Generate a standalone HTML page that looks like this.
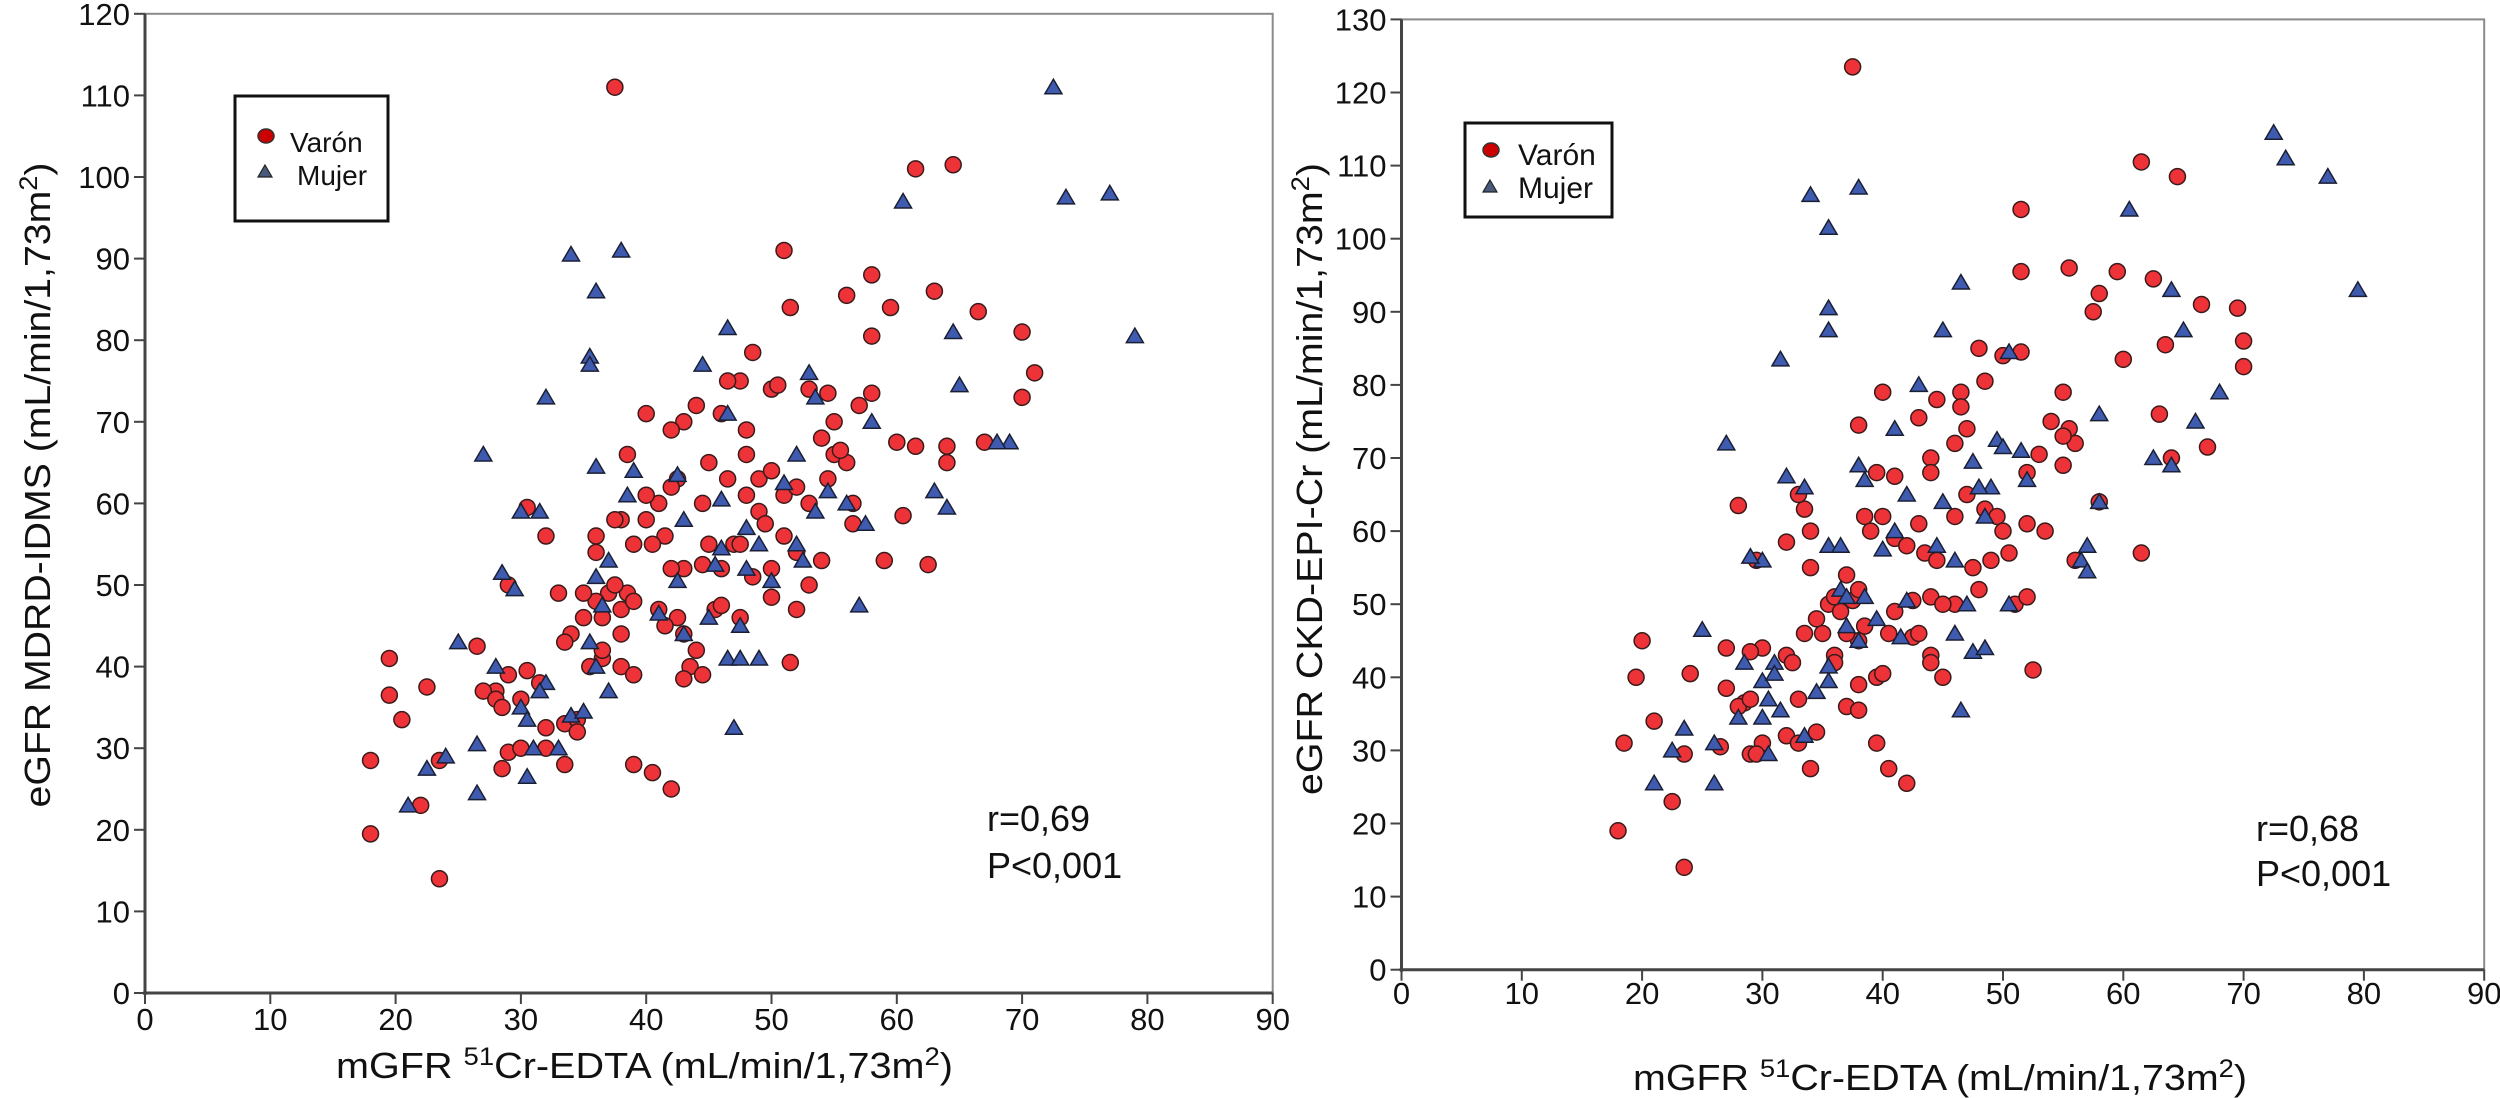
<!DOCTYPE html>
<html><head><meta charset="utf-8"><style>
html,body{margin:0;padding:0;background:#fff;}
svg{display:block;font-family:"Liberation Sans",Arial,sans-serif;}
</style></head><body>
<svg id="chart" width="2500" height="1098" viewBox="0 0 2500 1098" xmlns="http://www.w3.org/2000/svg">
<rect width="2500" height="1098" fill="#fff"/>
<g id="left"></g>
<g id="right"></g>
</svg>
<script>
const xTicks=[0,10,20,30,40,50,60,70,80,90];
const yTicksL=[0,10,20,30,40,50,60,70,80,90,100,110,120];
const yTicksR=[0,10,20,30,40,50,60,70,80,90,100,110,120,130];
const leftMaleX=[37.5,51,61.5,64.5,51.5,56,58,63,66.5,70,58,59.5,53,54.5,55,57,58,50,50.5,47.5,48.5,46.5,46,48,48,44,43,40,38.5,42,42.5,45,44.5,46.5,48,49,50,51,52,53,54.5,55,56,56.5,56.5,49,49.5,51,52,53,50,48.5,47,47.5,46,45,44.5,43,42,41.5,40.5,40,39,38,37.5,37,36.5,38,38.5,39,37.5,36,35,35.5,36.5,38,39,34,33.5,35,33,32,30.5,29,30,28,27,26.5,22.5,19.5,19.5,20.5,18,23.5,22,18,23.5,28,28.5,29,30.5,29,28.5,30,32,32,31.5,33.5,34.5,33.5,34.5,39,40.5,42,42.5,43,43.5,44.5,43,44,45.5,46,47.5,50,51.5,52,54,59,60.5,62.5,64,64,67,70,71,54,55.5,60,61.5,42,41,40,36,36.5,41,41.5,36,38];
const leftMaleY=[111,91,101,101.5,84,85.5,88,86,83.5,81,80.5,84,74,73.5,70,72,73.5,74,74.5,75,78.5,75,71,69,66,72,70,71,66,69,63,65,60,63,61,63,64,61,62,60,63,66,65,60,57.5,59,57.5,56,54,50,52,51,55,55,52,55,52.5,52,52,56,55,58,55,58,58,49,46,47,49,48,50,48,49,40,41,40,39,44,43,46,49,56,59.5,50,36,37,37,42.5,37.5,41,36.5,33.5,28.5,28.5,23,19.5,14,36,35,39,39.5,29.5,27.5,30,32.5,30,38,33,33.5,28,32,28,27,25,46,44,40,39,38.5,42,47,47.5,46,48.5,40.5,47,53,53,58.5,52.5,65,67,67.5,73,76,68,66.5,67.5,67,62,60,61,54,42,47,45,56,44];
const leftFemaleX=[72.5,73.5,77,79,60.5,64.5,65,69,68,63,64,57,57.5,58,53,53.5,52,51,52,52.5,46.5,44.5,46.5,38,34,36,35.5,35.5,32,27,31.5,30,36,39,38.5,43,42.5,46,48,46,45.5,42.5,41,43,45,48,50,49,47.5,36,37,36.5,35.5,36,37,28.5,29.5,25,28,30,31,33,32,34,35,31.5,30.5,30.5,26.5,26.5,24,22.5,21,46.5,47.5,49,47,56,54.5,53.5];
const leftFemaleY=[111,97.5,98,80.5,97,81,74.5,67.5,67.5,61.5,59.5,47.5,57.5,70,76,73,66,62.5,55,53,81.5,77,71,91,90.5,86,78,77,73,66,59,59,64.5,64,61,58,63.5,60.5,57,54.5,52.5,50.5,46.5,44,46,52,50.5,55,45,51,53,47.5,43,40,37,51.5,49.5,43,40,35,30,30,38,34,34.5,37,33.5,26.5,30.5,24.5,29,27.5,23,41,41,41,32.5,60,61.5,59];
const rightMaleX=[37.5,51.5,61.5,64.5,55.5,51.5,59.5,62.5,58,66.5,69.5,57.5,70,63.5,60,70,67,63,64,61.5,56,58,55,56,55.5,55,54,55,53,52,51.5,50,48,48.5,46.5,46.5,44.5,40,43,47,46,44,44,41,39.5,38,38.5,40,39,41,42,43,43.5,44.5,46,47,48.5,49.5,50,52,53.5,50.5,48,47.5,49,51,52,52.5,46,44,45,42.5,41,40.5,38.5,38,37,36,36,35,34.5,35.5,36.5,37.5,38,37,36,34,34,33.5,32,29.5,28,33,38,39.5,40,37,38,33.5,32,32.5,30,29,27,27,24,20,19.5,21,18.5,23.5,22.5,18,23.5,28.5,28,29,29,30,29.5,32,33,33,34.5,34,39.5,40.5,42,42.5,43,44,44,45,26.5];
const rightMaleY=[123.5,104,110.5,108.5,96,95.5,95.5,94.5,92.5,91,90.5,90,86,85.5,83.5,82.5,71.5,76,70,57,56,64,79,72,74,73,75,69,70.5,68,84.5,84,85,80.5,79,77,78,79,75.5,74,72,70,68,67.5,68,74.5,62,62,60,59,58,61,57,56,62,65,63,62,60,61,60,57,52,55,56,50,51,41,50,51,50,50.5,49,46,47,45,46,43,42,46,48,50,49,50.5,52,54,51,55,60,63,58.5,56,63.5,65,39,40,40.5,36,35.5,46,43,42,44,43.5,44,38.5,40.5,45,40,34,31,29.5,23,19,14,36.5,36,37,29.5,31,29.5,32,31,37,32.5,27.5,31,27.5,25.5,45.5,46,43,42,40,30.5];
const rightFemaleX=[72.5,73.5,77,79.5,60.5,64,65,68,66,58,62.5,64,58,56.5,57,57,50.5,46.5,45,43,41,38,34,35.5,35.5,35.5,31.5,27,33.5,32,30,29,35.5,36.5,38,38.5,42,45,47.5,49.5,50,51.5,52,49,48,48.5,46,44.5,41,40,36.5,37,38.5,37,35.5,38,39.5,42,41.5,47,50.5,47.5,48.5,46.5,46,25,28.5,30,31,31,30.5,31.5,33.5,34.5,35.5,28,30,30.5,26,26,23.5,21,22.5];
const rightFemaleY=[114.5,111,108.5,93,104,93,87.5,79,75,76,70,69,64,56,54.5,58,84.5,94,87.5,80,74,107,106,101.5,90.5,87.5,83.5,72,66,67.5,56,56.5,58,58,69,67,65,64,69.5,72.5,71.5,71,67,66,66,62,56,58,60,57.5,52,51,51,47,41.5,45,48,50.5,45.5,50,50,43.5,44,35.5,46,46.5,42,39.5,42,40.5,37,35.5,32,38,39.5,34.5,34.5,29.5,31,25.5,33,25.5,30];

const NS='http://www.w3.org/2000/svg';
function mk(tag,attrs,parent){const e=document.createElementNS(NS,tag);for(const k in attrs)e.setAttribute(k,attrs[k]);parent.appendChild(e);return e;}

function panel(g,cfg){
  const sx=v=>cfg.x0+v*cfg.kx, sy=v=>cfg.y0-v*cfg.ky;
  const top=sy(cfg.ymax), right=sx(90);
  const frame=mk('rect',{x:cfg.x0,y:top,width:right-cfg.x0,height:cfg.y0-top,fill:'none',stroke:'#8a8a8a','stroke-width':2},g);
  
  
  const yax=mk('line',{x1:cfg.x0,y1:top,x2:cfg.x0,y2:cfg.y0+2,stroke:'#444','stroke-width':3},g);
  
  
  const xax=mk('line',{x1:cfg.x0-2,y1:cfg.y0,x2:right,y2:cfg.y0,stroke:'#444','stroke-width':3},g);
  
  
  cfg.yTicks.forEach(t=>{
    const y=sy(t);
    const l=mk('line',{x1:cfg.x0-11,y1:y,x2:cfg.x0,y2:y,stroke:'#444','stroke-width':2},g);
    
    
    const tx=mk('text',{x:cfg.x0-15,y:y+11,'text-anchor':'end','font-size':31,fill:'#111'},g);
    tx.textContent=t;
    
    
  });
  xTicks.forEach(t=>{
    const x=sx(t);
    const l=mk('line',{x1:x,y1:cfg.y0,x2:x,y2:cfg.y0+11,stroke:'#444','stroke-width':2},g);
    
    
    const tx=mk('text',{x:x,y:cfg.xLabY,'text-anchor':'middle','font-size':31,fill:'#111'},g);
    tx.textContent=t;
    
    
  });
  function circ(xs,ys){xs.forEach((v,i)=>{
    const c=mk('circle',{cx:sx(v),cy:sy(ys[i]),r:8,fill:'#ee3338',stroke:'#3a1a1a','stroke-width':1.5},g);
    
    
  });}
  function tri(xs,ys){xs.forEach((v,i)=>{
    const x=sx(v),y=sy(ys[i]);
    const p=mk('polygon',{points:`${x},${y-8} ${x+8.5},${y+6.5} ${x-8.5},${y+6.5}`,fill:'#3f5bb0',stroke:'#1a1f33','stroke-width':1.5},g);
    
    
  });}
  circ(cfg.mx,cfg.my); tri(cfg.fx,cfg.fy);
}
panel(document.getElementById('left'),{x0:145,kx:12.53,y0:993,ky:8.16,ymax:120,yTicks:yTicksL,xLabY:1030,mx:leftMaleX,my:leftMaleY,fx:leftFemaleX,fy:leftFemaleY});
panel(document.getElementById('right'),{x0:1401.5,kx:12.03,y0:969.7,ky:7.31,ymax:130,yTicks:yTicksR,xLabY:1004,mx:rightMaleX,my:rightMaleY,fx:rightFemaleX,fy:rightFemaleY});
</script>
<svg style="position:absolute;left:0;top:0" width="2500" height="1098" viewBox="0 0 2500 1098">
<g font-family="Liberation Sans, Arial, sans-serif" fill="#111">
<text transform="translate(50,485) rotate(-90)" text-anchor="middle" font-size="36" textLength="645" lengthAdjust="spacingAndGlyphs">eGFR MDRD-IDMS (mL/min/1,73m<tspan dy="-13" font-size="25">2</tspan><tspan dy="13">)</tspan></text>
<text x="336" y="1078" font-size="36" textLength="617" lengthAdjust="spacingAndGlyphs">mGFR <tspan dy="-13" font-size="25">51</tspan><tspan dy="13">Cr-EDTA (mL/min/1,73m</tspan><tspan dy="-13" font-size="25">2</tspan><tspan dy="13">)</tspan></text>
<text x="987" y="831" font-size="36">r=0,69</text>
<text x="987" y="878" font-size="36">P&lt;0,001</text>
<text transform="translate(1322,479) rotate(-90)" text-anchor="middle" font-size="36" textLength="632" lengthAdjust="spacingAndGlyphs">eGFR CKD-EPI-Cr (mL/min/1,73m<tspan dy="-13" font-size="25">2</tspan><tspan dy="13">)</tspan></text>
<text x="1633" y="1090" font-size="36" textLength="614" lengthAdjust="spacingAndGlyphs">mGFR <tspan dy="-13" font-size="25">51</tspan><tspan dy="13">Cr-EDTA (mL/min/1,73m</tspan><tspan dy="-13" font-size="25">2</tspan><tspan dy="13">)</tspan></text>
<text x="2256" y="841" font-size="36">r=0,68</text>
<text x="2256" y="886" font-size="36">P&lt;0,001</text>
</g>
<g font-family="Liberation Sans, Arial, sans-serif" fill="#111">
<rect x="235" y="96" width="153" height="125" fill="#fff" stroke="#111" stroke-width="3"/>
<ellipse cx="266" cy="136" rx="8" ry="7" fill="#cc0000" stroke="#333" stroke-width="1.5"/>
<text x="290" y="152" font-size="28">Varón</text>
<polygon points="265,165 272,177 258,177" fill="#4a5a7a" stroke="#222" stroke-width="1.2"/>
<text x="297" y="185" font-size="28">Mujer</text>
</g>
<g font-family="Liberation Sans, Arial, sans-serif" fill="#111">
<rect x="1465" y="123" width="147" height="94" fill="#fff" stroke="#111" stroke-width="3"/>
<ellipse cx="1491" cy="150" rx="8" ry="7" fill="#cc0000" stroke="#333" stroke-width="1.5"/>
<text x="1518" y="165" font-size="30">Varón</text>
<polygon points="1490,180 1497,192 1483,192" fill="#4a5a7a" stroke="#222" stroke-width="1.2"/>
<text x="1518" y="198" font-size="30">Mujer</text>
</g>
</svg>
</body></html>
